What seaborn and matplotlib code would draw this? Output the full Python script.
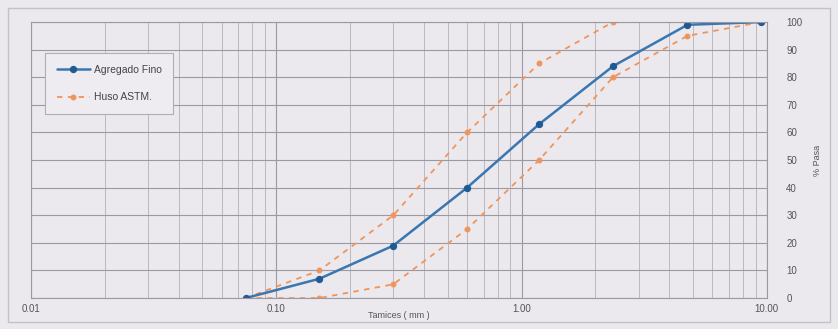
import pandas as pd
import seaborn as sns
import matplotlib.pyplot as plt
from matplotlib.ticker import FixedLocator, LogLocator, NullFormatter

# Tamices (mm) y % que pasa
tamices = [0.075, 0.15, 0.3, 0.6, 1.18, 2.36, 4.75, 9.5]
agregado_fino = [0, 7, 19, 40, 63, 84, 99, 100]
huso_superior = [0, 10, 30, 60, 85, 100, 100, 100]
huso_inferior = [0, 0, 5, 25, 50, 80, 95, 100]

x_ticks = [0.01, 0.1, 1, 10]
x_labels = ["0.01", "0.10", "1.00", "10.00"]
y_ticks = list(range(0, 101, 10))

bg = "#ebe8ee"
sns.set_style("white")
plt.rcParams['font.family'] = ['Liberation Sans', 'DejaVu Sans']

fig = plt.figure(figsize=(8.38, 3.29), dpi=100, facecolor=bg)
ax = fig.add_axes([0.037, 0.094, 0.878, 0.839])
ax.set_facecolor(bg)

# marco exterior
fig.add_artist(plt.Rectangle((0.009, 0.02), 0.982, 0.955, transform=fig.transFigure,
                             fill=False, edgecolor="#c4c0c8", linewidth=1))

orange = "#f0955a"
sns.lineplot(x=tamices, y=huso_superior, ax=ax, color=orange, linestyle=(0, (3, 3)),
             linewidth=1.3, marker="o", markersize=3.5, markeredgecolor=orange, label="Huso ASTM.")
sns.lineplot(x=tamices, y=huso_inferior, ax=ax, color=orange, linestyle=(0, (3, 3)),
             linewidth=1.3, marker="o", markersize=3.5, markeredgecolor=orange)
sns.lineplot(x=tamices, y=agregado_fino, ax=ax, color="#3a76b0", linewidth=1.8,
             marker="o", markersize=4.5, markerfacecolor="#1f5a94", markeredgecolor="#1f5a94",
             label="Agregado Fino")

ax.set_xscale("log")
ax.set_xlim(0.01, 10)
ax.set_ylim(0, 100)

ax.xaxis.set_major_locator(FixedLocator(x_ticks))
ax.set_xticklabels(x_labels)
ax.xaxis.set_minor_locator(LogLocator(base=10, subs=range(2, 10)))
ax.xaxis.set_minor_formatter(NullFormatter())
ax.set_yticks(y_ticks)

ax.yaxis.tick_right()
ax.yaxis.set_label_position("right")
ax.tick_params(axis="both", length=0, labelsize=7, colors="#555555", pad=4)
ax.tick_params(axis="y", pad=14)

ax.grid(True, which="major", color="#9c99a1", linewidth=0.8)
ax.grid(True, which="minor", axis="x", color="#b3b0b8", linewidth=0.6)
for s in ax.spines.values():
    s.set_color("#9c99a1")
    s.set_linewidth(0.8)

ax.set_xlabel("Tamices ( mm )", fontsize=6.5, color="#555555", labelpad=-2)
ax.set_ylabel("% Pasa", fontsize=6.5, color="#555555", labelpad=8)

handles, labels = ax.get_legend_handles_labels()
order = [labels.index("Agregado Fino"), labels.index("Huso ASTM.")]
leg = ax.legend([handles[i] for i in order], [labels[i] for i in order],
                loc="upper left", bbox_to_anchor=(0.012, 0.906), fontsize=7.5,
                frameon=True, fancybox=False, edgecolor="#b0adb4", facecolor="#eeecf0",
                framealpha=1, borderpad=1.1, labelspacing=1.7, handlelength=3.2,
                handletextpad=0.4)
leg.get_frame().set_linewidth(0.8)
for t in leg.get_texts():
    t.set_color("#444444")

fig.savefig("out.png", dpi=100, facecolor=bg)
